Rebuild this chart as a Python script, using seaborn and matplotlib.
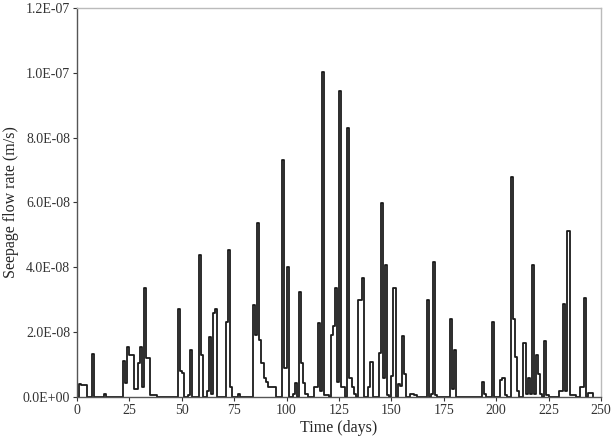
import numpy as np
import pandas as pd
import seaborn as sns
import matplotlib
matplotlib.use('Agg')
import matplotlib.pyplot as plt
from matplotlib.ticker import FuncFormatter

# Days with seepage and the daily rate on those days (x 1E-08 m/s)
wet_days = [1, 2, 3, 4, 7, 13, 22, 23, 24, 25, 26, 27, 28, 29, 30, 31, 32, 33, 34, 35, 36, 37,
            48, 49, 50, 53, 54, 58, 59, 62, 63, 64, 65, 66, 71, 72, 73, 77,
            84, 85, 86, 87, 88, 89, 90, 91, 92, 93, 94, 98, 99, 100, 103, 104, 106, 107, 108, 109,
            113, 114, 115, 116, 117, 118, 119, 121, 122, 123, 124, 125, 126, 127, 129, 130, 131, 132,
            134, 135, 136, 139, 140, 144, 145, 146, 147, 148, 150, 151, 153, 154, 155, 156,
            159, 160, 161, 167, 169, 170, 171, 178, 179, 180, 193, 194, 198, 202, 203, 204,
            207, 208, 209, 210, 213, 214, 215, 216, 217, 218, 219, 220, 221, 223, 224,
            230, 231, 232, 233, 234, 235, 236, 237, 240, 241, 242, 244, 245]
rate_e8 = [0.40, 0.38, 0.38, 0.38, 1.33, 0.08, 1.10, 0.42, 1.55, 1.30, 1.30, 0.25, 0.25, 1.05, 1.55, 0.30, 3.36, 1.20, 1.20, 0.06, 0.06, 0.06,
           2.72, 0.80, 0.75, 0.05, 1.45, 4.38, 1.30, 0.20, 1.85, 0.10, 2.60, 2.70, 2.30, 4.54, 0.30, 0.10,
           2.84, 1.90, 5.37, 1.76, 1.05, 0.58, 0.45, 0.30, 0.32, 0.30, 0.32, 7.30, 0.90, 4.00, 0.10, 0.42, 3.24, 1.05, 0.42, 0.10,
           0.30, 0.30, 2.28, 0.20, 10.03, 0.05, 0.05, 1.90, 2.20, 3.36, 0.45, 9.45, 0.30, 0.30, 8.30, 0.60, 0.30, 0.10,
           3.00, 3.00, 3.67, 0.30, 1.08, 1.35, 5.98, 0.60, 4.07, 0.06, 0.65, 3.37, 0.40, 0.35, 1.88, 0.70,
           0.10, 0.10, 0.05, 3.00, 0.10, 4.15, 0.06, 2.40, 0.25, 1.45, 0.46, 0.08, 2.30, 0.52, 0.60, 0.05,
           6.80, 2.40, 1.23, 0.20, 1.68, 0.10, 0.58, 0.10, 4.07, 0.10, 1.30, 0.70, 0.10, 1.74, 0.05,
           0.20, 0.20, 2.87, 0.20, 5.13, 0.05, 0.05, 0.05, 0.32, 0.32, 3.06, 0.12, 0.12]
last_day = 246

x_ticks = [0, 25, 50, 75, 100, 125, 150, 175, 200, 225, 250]
y_ticks = [0, 2e-8, 4e-8, 6e-8, 8e-8, 1e-7, 1.2e-7]

# daily series, dry days are zero
flow = pd.Series(rate_e8, index=wet_days).reindex(range(last_day + 1), fill_value=0.0) * 1e-8
df = pd.DataFrame({'day': flow.index, 'rate': flow.values})

sns.set_style('ticks')
plt.rcParams['font.family'] = ['Liberation Serif', 'DejaVu Serif']

fig = plt.figure(figsize=(6.14, 4.42), dpi=100)
ax = fig.add_axes([0.1254, 0.1018, 0.8534, 0.8802])

sns.lineplot(data=df, x='day', y='rate', ax=ax, drawstyle='steps-post',
             color='#1a1a1a', linewidth=1.3)

ax.set_xlim(0, 250)
ax.set_ylim(0, 1.2e-7)
ax.set_xticks(x_ticks)
ax.set_yticks(y_ticks)
ax.yaxis.set_major_formatter(FuncFormatter(lambda v, p: f'{v:.1E}'))
ax.tick_params(labelsize=10, length=3, width=0.8, colors='#333333', pad=2)

ax.set_xlabel('Time (days)', fontsize=11.5, labelpad=2)
ax.set_ylabel('Seepage flow rate (m/s)', fontsize=11.5, labelpad=3)

for side in ['left', 'bottom']:
    ax.spines[side].set_color('#555555')
    ax.spines[side].set_linewidth(1.0)
for side in ['top', 'right']:
    ax.spines[side].set_visible(True)
    ax.spines[side].set_color('#bbbbbb')
    ax.spines[side].set_linewidth(1.0)

plt.savefig('out.png', dpi=100)
